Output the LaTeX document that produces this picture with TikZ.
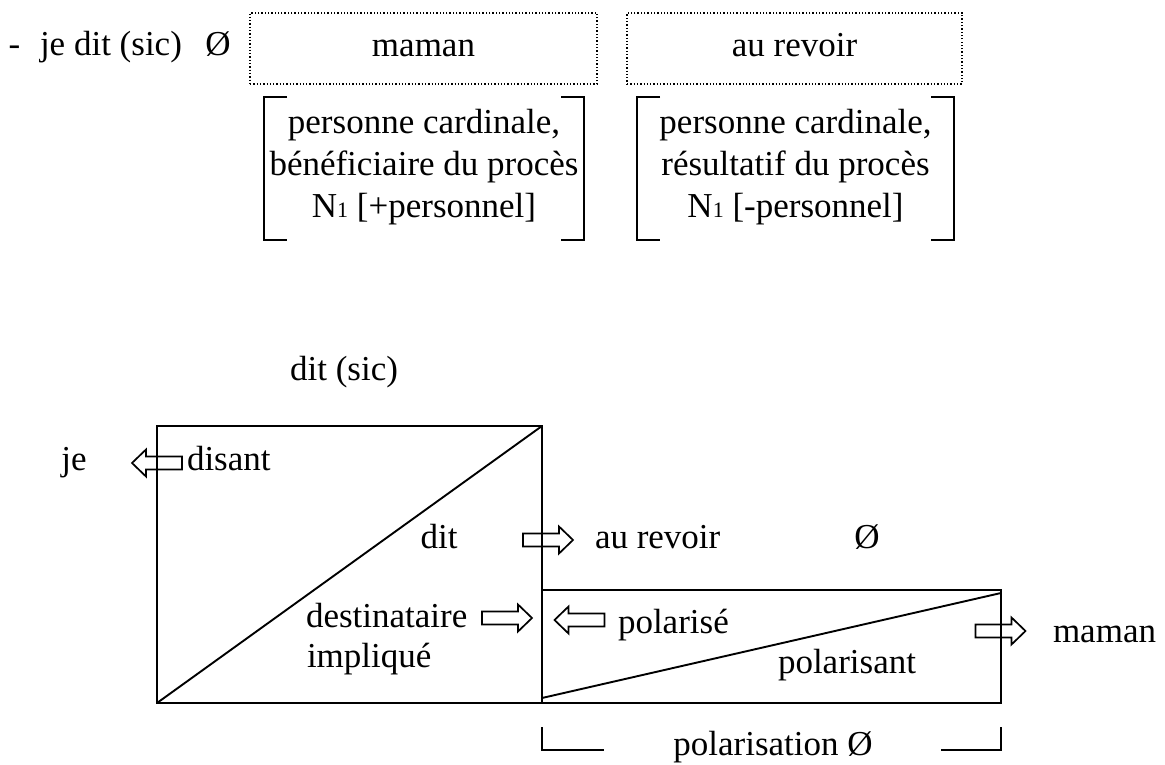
\documentclass[tikz,border=0pt]{standalone}
\usepackage{fontspec}
\setmainfont{Liberation Serif}
\newcommand{\Nsub}{N\raisebox{-1pt}{\fontsize{22}{22}\selectfont 1}}
\begin{document}
\begin{tikzpicture}[x=1pt,y=-1pt,
  every node/.style={font=\fontsize{35}{42}\selectfont, inner sep=0pt, outer sep=0pt},
  lbl/.style={anchor=base},
  lblw/.style={anchor=base west},
  dotbox/.style={draw, dotted, line width=1.3pt, minimum width=#1, minimum height=71pt, text height=16pt, text depth=0pt},
  frame/.style={draw, line width=1.9pt},
  brk/.style={line width=1.9pt},
  barrow/.pic={\draw[line width=1.7pt, line join=miter] (-25,-6.5) -- (11,-6.5) -- (11,-13.5) -- (25,0) -- (11,13.5) -- (11,6.5) -- (-25,6.5) -- cycle;}
]
\useasboundingbox (0,0) rectangle (1165,765);

% ---- top line ----
\node[lbl] (dash) at (14.5,56) {-};
\node[lblw] (jedit) at (40,56) {je dit (sic)};
\node[lbl] (zero1) at (218,56) {Ø};
\node[dotbox=347pt] (bmaman) at (423.5,48.5) {maman};
\node[dotbox=335pt] (brevoir) at (794.5,48.5) {au revoir};

\node[align=center, anchor=base] (fmaman) at (424,217) {personne cardinale,\\bénéficiaire du procès\\\Nsub{} [+personnel]};
\node[align=center, anchor=base] (frevoir) at (795.5,217) {personne cardinale,\\résultatif du procès\\\Nsub{} [-personnel]};

\draw[brk] (287,97) -- (264,97) -- (264,240) -- (287,240);
\draw[brk] (561,97) -- (584,97) -- (584,240) -- (561,240);
\draw[brk] (660,97) -- (637,97) -- (637,240) -- (660,240);
\draw[brk] (931,97) -- (954,97) -- (954,240) -- (931,240);

% ---- scheme ----
\node[lbl] (ditsic) at (344,380) {dit (sic)};

\node[frame, minimum width=385pt, minimum height=277pt] (big) at (349.5,564.5) {};
\draw[brk] (big.south west) -- (big.north east);
\node[frame, minimum width=459pt, minimum height=113pt] (small) at (771.5,646.5) {};
\draw[brk] ([yshift=5pt]small.south west) -- ([yshift=-3pt]small.north east);

\node[lbl] (je) at (74,470) {je};
\node[lblw] (disant) at (187,470) {disant};
\node[lbl] (dit) at (439,548) {dit};
\node[lblw] (aurevoir) at (595,548) {au revoir};
\node[lbl] (zero2) at (867,548) {Ø};
\node[lblw] (dest) at (306,627) {destinataire};
\node[lblw] (impl) at (307,667) {impliqué};
\node[lblw] (polarise) at (618,633) {polarisé};
\node[lblw] (polarisant) at (778,673) {polarisant};
\node[lblw] (maman) at (1053,642) {maman};
\node[lbl] (polarisation) at (773,755) {polarisation Ø};

\pic[rotate=180] (a1) at (157,463) {barrow};
\pic (a2) at (548,540) {barrow};
\pic (a3) at (507,618) {barrow};
\pic[rotate=180] (a4) at (579.5,620) {barrow};
\pic (a5) at (1000.5,631) {barrow};

\draw[brk] (542,727) -- (542,750) -- (604,750);
\draw[brk] (941,750) -- (1001,750) -- (1001,727);
\end{tikzpicture}
\end{document}
